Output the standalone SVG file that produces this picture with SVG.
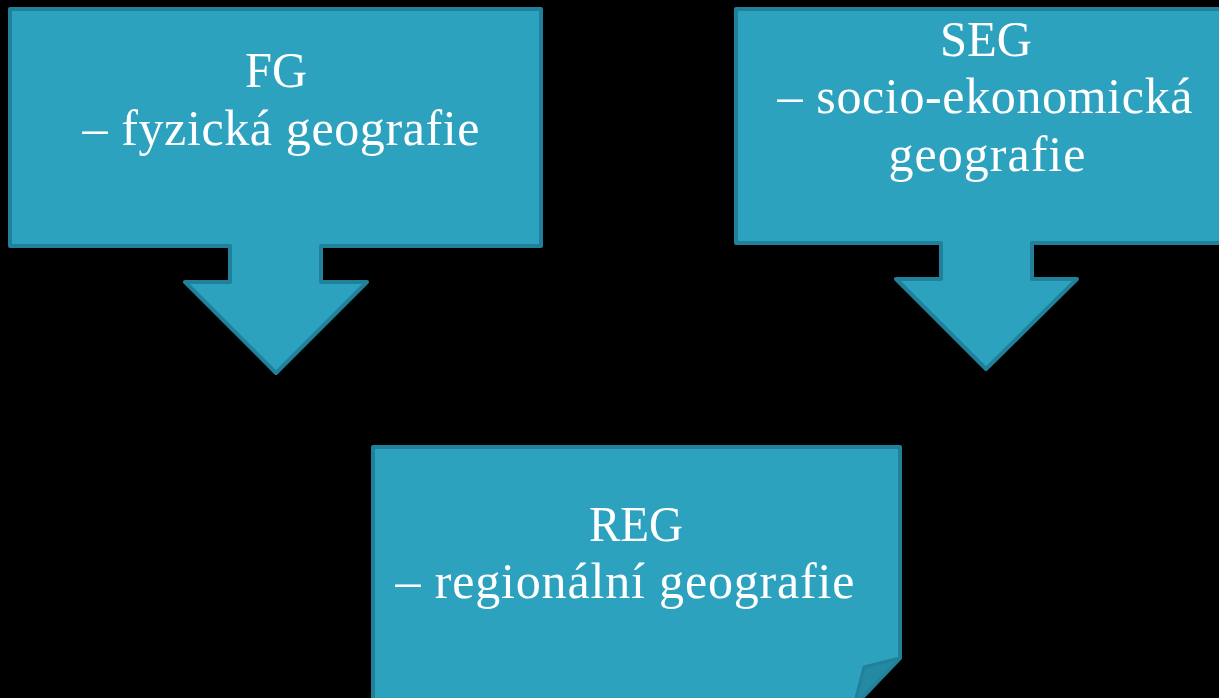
<svg xmlns="http://www.w3.org/2000/svg" width="1219" height="698" viewBox="0 0 1219 698">
<style>
.shape{fill:#2ca2bf;stroke:#22819a;stroke-width:4;stroke-linejoin:round}
.fold{fill:#248aa3;stroke:#22819a;stroke-width:3;stroke-linejoin:round}
.t{font-family:"Liberation Serif","Times New Roman",serif;font-size:50px;fill:#ffffff;text-anchor:middle}
</style>
<rect width="1219" height="698" fill="#000000"/>
<g id="fg">
<path class="shape" d="M10,9 H541 V246 H321 V282 H367 L276,373 L185,282 H230 V246 H10 Z"/>
<text class="t" x="276" y="87" textLength="62" lengthAdjust="spacingAndGlyphs">FG</text>
<text class="t" x="281" y="145" textLength="397" lengthAdjust="spacing">– fyzická geografie</text>
</g>
<g id="seg">
<path class="shape" d="M736,9 H1230 V243 H1032 V279 H1077 L986,369 L896,279 H941 V243 H736 Z"/>
<text class="t" x="986" y="56" textLength="92" lengthAdjust="spacingAndGlyphs">SEG</text>
<text class="t" x="985" y="113" textLength="415" lengthAdjust="spacing">– socio-ekonomická</text>
<text class="t" x="987" y="171" textLength="197" lengthAdjust="spacing">geografie</text>
</g>
<g id="reg">
<path class="shape" d="M373,447 H900 V658 L858,702 H373 Z"/>
<polygon class="fold" points="900,658 864,667 855,702 858,702"/>
<text class="t" x="636" y="541" textLength="94" lengthAdjust="spacingAndGlyphs">REG</text>
<text class="t" x="625" y="598" textLength="459" lengthAdjust="spacing">– regionální geografie</text>
</g>
<g id="connectors"></g>
</svg>
